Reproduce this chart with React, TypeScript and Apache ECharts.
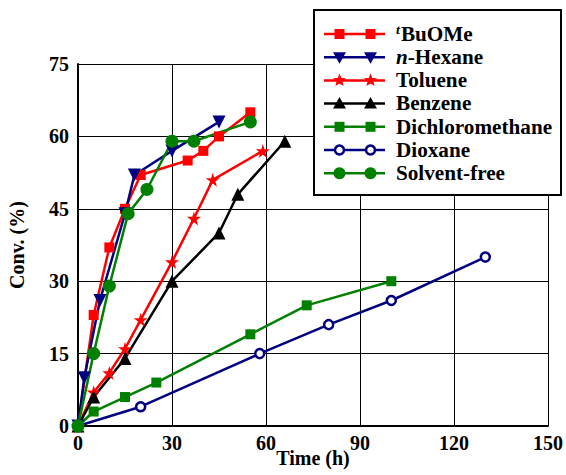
import React, { useEffect, useRef } from "react";
import * as echarts from "echarts";

const seriesNames = ["tBuOMe", "n-Hexane", "Toluene", "Benzene", "Dichloromethane", "Dioxane", "Solvent-free"];
const legendLabels = ["{sup|t}BuOMe", "{it|n}-Hexane", "Toluene", "Benzene", "Dichloromethane", "Dioxane", "Solvent-free"];

const tBuOMe = [[0, 0], [5, 23], [10, 37], [15, 45], [20, 52], [35, 55], [40, 57], [45, 60], [55, 65]];
const nHexane = [[0, 0], [2, 10], [7, 26], [15, 44], [18, 52], [30, 57], [45, 63]];
const toluene = [[0, 0], [5, 7], [10, 11], [15, 16], [20, 22], [30, 34], [37, 43], [43, 51], [59, 57]];
const benzene = [[0, 0], [5, 6], [15, 14], [30, 30], [45, 40], [51, 48], [66, 59]];
const dichloromethane = [[0, 0], [5, 3], [15, 6], [25, 9], [55, 19], [73, 25], [100, 30]];
const dioxane = [[0, 0], [20, 4], [58, 15], [80, 21], [100, 26], [130, 35]];
const solventFree = [[0, 0], [5, 15], [10, 29], [16, 44], [22, 49], [30, 59], [37, 59], [55, 63]];

const xTicks = { min: 0, max: 150, interval: 30 };
const yTicks = { min: 0, max: 75, interval: 15 };

const RED = "#ff0000";
const NAVY = "#000080";
const BLACK = "#000000";
const GREEN = "#008000";
const FONT = "'Liberation Serif', 'Times New Roman', serif";
const STAR = "path://M50,0 L61,35 L98,35 L68,57 L79,91 L50,70 L21,91 L32,57 L2,35 L39,35 Z";

type Kind = "square" | "down" | "star" | "up" | "ring" | "dot";
const styles: { color: string; kind: Kind }[] = [
  { color: RED, kind: "square" },
  { color: NAVY, kind: "down" },
  { color: RED, kind: "star" },
  { color: BLACK, kind: "up" },
  { color: GREEN, kind: "square" },
  { color: NAVY, kind: "ring" },
  { color: GREEN, kind: "dot" },
];

function starPoints(cx: number, cy: number, R: number, r: number) {
  const pts: number[][] = [];
  for (let i = 0; i < 10; i++) {
    const a = -Math.PI / 2 + (i * Math.PI) / 5;
    const rad = i % 2 === 0 ? R : r;
    pts.push([cx + rad * Math.cos(a), cy + rad * Math.sin(a)]);
  }
  return pts;
}

function legendMarker(kind: Kind, color: string, cx: number, cy: number): any {
  switch (kind) {
    case "square":
      return { type: "rect", shape: { x: cx - 5, y: cy - 5, width: 10, height: 10 }, style: { fill: color } };
    case "down":
      return { type: "polygon", shape: { points: [[cx - 6.5, cy - 5], [cx + 6.5, cy - 5], [cx, cy + 6.5]] }, style: { fill: color } };
    case "up":
      return { type: "polygon", shape: { points: [[cx - 6.5, cy + 5], [cx + 6.5, cy + 5], [cx, cy - 6.5]] }, style: { fill: color } };
    case "star":
      return { type: "polygon", shape: { points: starPoints(cx, cy, 7, 3) }, style: { fill: color } };
    case "ring":
      return { type: "circle", shape: { cx, cy, r: 4.5 }, style: { fill: "#fff", stroke: color, lineWidth: 2.5 } };
    default:
      return { type: "circle", shape: { cx, cy, r: 6 }, style: { fill: color } };
  }
}

export default function App() {
  const ref = useRef<HTMLDivElement>(null);
  useEffect(() => {
    if (!ref.current) return;
    const chart = echarts.init(ref.current, undefined, { renderer: "svg" });
    const mk = (name: string, data: number[][], color: string, symbol: string, size: number, extra: any = {}) => ({
      name,
      type: "line",
      data,
      symbol,
      symbolSize: size,
      showSymbol: true,
      lineStyle: { color, width: 2.5, type: "solid" },
      itemStyle: { color, borderColor: color, borderWidth: 0 },
      z: 3,
      ...extra,
    });

    const legendEls: any[] = [
      { type: "rect", shape: { x: 314, y: 10, width: 247, height: 185 }, style: { fill: "#fff", stroke: "#000", lineWidth: 2 }, z: 100 },
    ];
    styles.forEach((s, i) => {
      const cy = 34 + i * 23.2;
      legendEls.push({ type: "line", shape: { x1: 324, y1: cy, x2: 385, y2: cy }, style: { stroke: s.color, lineWidth: 2.5 }, z: 101 });
      [339.5, 370.5].forEach((cx) => {
        const m = legendMarker(s.kind, s.color, cx, cy);
        m.z = 102;
        legendEls.push(m);
      });
      legendEls.push({
        type: "text",
        x: 396,
        y: cy,
        scaleX: 1.06,
        z: 103,
        style: {
          text: legendLabels[i],
          fill: "#000",
          font: `bold 20px ${FONT}`,
          fontFamily: FONT,
          fontWeight: "bold",
          fontSize: 20,
          verticalAlign: "middle",
          align: "left",
          rich: {
            sup: { fontFamily: FONT, fontWeight: "bold", fontStyle: "italic", fontSize: 13, fill: "#000", padding: [0, 1, 9, 0] },
            it: { fontFamily: FONT, fontWeight: "bold", fontStyle: "italic", fontSize: 20, fill: "#000" },
          },
        },
      });
    });

    chart.setOption({
      animation: false,
      backgroundColor: "#fff",
      grid: { left: 78, right: 18, top: 64, bottom: 49, containLabel: false, outerBoundsMode: "none" },
      xAxis: {
        type: "value",
        ...xTicks,
        name: "Time (h)",
        nameLocation: "middle",
        nameGap: 22,
        nameMoveOverlap: false,
        nameTextStyle: { fontFamily: FONT, fontWeight: "bold", fontSize: 20, color: "#000", lineHeight: 20 },
        axisLine: { show: true, onZero: false, lineStyle: { color: "#000", width: 2 } },
        axisTick: { show: false },
        axisLabel: { fontFamily: FONT, fontWeight: "bold", fontSize: 20, color: "#000", margin: 7 },
        splitLine: { show: true, lineStyle: { color: "#000", width: 1 } },
      },
      yAxis: {
        type: "value",
        ...yTicks,
        name: "Conv. (%)",
        nameLocation: "middle",
        nameGap: 51,
        nameMoveOverlap: false,
        nameTextStyle: { fontFamily: FONT, fontWeight: "bold", fontSize: 20, color: "#000" },
        axisLine: { show: true, onZero: false, lineStyle: { color: "#000", width: 2 } },
        axisTick: { show: false },
        axisLabel: { fontFamily: FONT, fontWeight: "bold", fontSize: 20, color: "#000", margin: 9 },
        splitLine: { show: true, lineStyle: { color: "#000", width: 1 } },
      },
      legend: { show: false, data: seriesNames },
      graphic: legendEls,
      series: [
        mk(seriesNames[0], tBuOMe, RED, "rect", 10),
        mk(seriesNames[1], nHexane, NAVY, "triangle", 13, { symbolRotate: 180 }),
        mk(seriesNames[2], toluene, RED, STAR, 14),
        mk(seriesNames[3], benzene, BLACK, "triangle", 13),
        mk(seriesNames[4], dichloromethane, GREEN, "rect", 10),
        mk(seriesNames[5], dioxane, NAVY, "circle", 9, { itemStyle: { color: "#fff", borderColor: NAVY, borderWidth: 2.5 } }),
        mk(seriesNames[6], solventFree, GREEN, "circle", 13),
      ],
    });
    return () => chart.dispose();
  }, []);
  return <div ref={ref} style={{ position: "absolute", left: 0, top: 0, width: 566, height: 475 }} />;
}
